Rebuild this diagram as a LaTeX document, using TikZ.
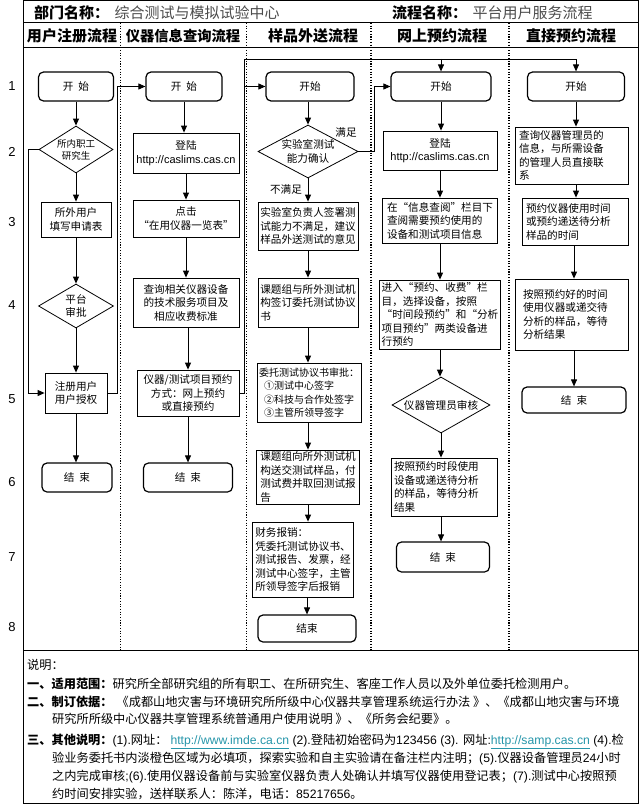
\documentclass[tikz,border=0pt]{standalone}
\usepackage{fontspec}
\setmainfont{Noto Sans CJK SC}
\newfontfamily\lat{Liberation Sans}
\usetikzlibrary{arrows.meta,shapes.geometric}
\definecolor{linkc}{RGB}{38,150,170}
\newcommand{\bxf}{\fontsize{10.6}{13.5}\selectfont}
\newcommand{\smf}{\fontsize{9.5}{12}\selectfont}
\newcommand{\hdf}{\fontsize{15}{18}\selectfont}
\newcommand{\ntf}{\fontsize{12.2}{14}\selectfont}
\newcommand{\lnk}[1]{{\color{linkc}\lat\underline{#1}}}
\begin{document}
\begin{tikzpicture}[x=1pt,y=-1pt,
  bx/.style={draw, line width=0.8pt, inner xsep=2pt, inner ysep=1pt, font=\bxf, align=center},
  lb/.style={bx, align=left},
  term/.style={draw, line width=1.2pt, rounded corners=5pt, font=\bxf, align=center},
  dia/.style={diamond, draw, line width=0.8pt, inner sep=0pt},
  lbl/.style={font=\bxf, align=center, inner sep=0pt},
  arr/.style={-{Triangle[length=7pt,width=6pt]}, line width=0.9pt},
  ln/.style={line width=0.9pt},
  sep/.style={line width=1.1pt, dash pattern=on 1.1pt off 1.6pt},
  num/.style={font=\lat\fontsize{13}{13}\selectfont, inner sep=0pt},
  hd/.style={font=\hdf\bfseries, inner sep=0pt},
  nt/.style={font=\ntf, anchor=base west, inner sep=0pt},
]
\useasboundingbox (0,0) rectangle (640,805);
\fill[white] (0,0) rectangle (640,805);
% frame
\draw[line width=1pt] (23,0.5) rectangle (638,803);
\draw[line width=1pt] (23,23) -- (638,23);
\draw[line width=1pt] (23,48) -- (638,48);
\draw[line width=1pt] (23,650) -- (638,650);
\foreach \x in {120.5,246.5,371,509} \draw[sep] (\x,23) -- (\x,650);

% header
\node[anchor=base west, font=\hdf\bfseries, inner sep=0pt] (dept) at (34,18.5) {部门名称：};
\node[anchor=base west, font=\hdf, text=black!70, inner sep=0pt, xshift=5pt] (deptn) at (dept.base east) {综合测试与模拟试验中心};
\node[anchor=base west, font=\hdf\bfseries, inner sep=0pt] (flow) at (392,18.5) {流程名称：};
\node[anchor=base west, font=\hdf, text=black!70, inner sep=0pt, xshift=5pt] (flown) at (flow.base east) {平台用户服务流程};
\node[hd] (c1) at (72,36) {用户注册流程};
\node[hd, font=\fontsize{14.3}{16}\selectfont\bfseries] (c2) at (183,36) {仪器信息查询流程};
\node[hd] (c3) at (313,36) {样品外送流程};
\node[hd] (c4) at (442,36) {网上预约流程};
\node[hd] (c5) at (571,36) {直接预约流程};

% row numbers
\node[num] (n1) at (12,86) {1};
\node[num] (n2) at (12,152) {2};
\node[num] (n3) at (12,222) {3};
\node[num] (n4) at (12,305) {4};
\node[num] (n5) at (12,399) {5};
\node[num] (n6) at (12,482) {6};
\node[num] (n7) at (12,557) {7};
\node[num] (n8) at (12,627) {8};

% column 1
\node[term, minimum width=75pt, minimum height=29pt] (s1) at (76,86.5) {开\hspace{5pt}始};
\node[dia, minimum width=74pt, minimum height=47pt] (d1) at (76,149.5) {};
\node[lbl, font=\smf] (d1t) at (d1) {所内职工\\研究生};
\node[bx, minimum width=70pt, minimum height=35pt] (r1a) at (76,219.5) {所外用户\\填写申请表};
\node[dia, minimum width=75pt, minimum height=44pt] (d2) at (76,306) {};
\node[lbl] (d2t) at (d2) {平台\\审批};
\node[bx, minimum width=62pt, minimum height=40pt] (r1b) at (76,393) {注册用户\\用户授权};
\node[term, minimum width=70pt, minimum height=29pt] (e1) at (77,477.5) {结\hspace{5pt}束};

\draw[arr] (s1.south) -- (s1.south |- d1.north);
\draw[arr] (d1.south) -- (d1.south |- r1a.north);
\draw[arr] (r1a.south) -- (r1a.south |- d2.north);
\draw[arr] (d2.south) -- (d2.south |- r1b.north);
\draw[arr] (r1b.south) -- (r1b.south |- e1.north);
\draw[arr] (d1.west) -- ++(-10,0) |- (r1b.west);

% column 2
\node[term, minimum width=76pt, minimum height=29pt] (s2) at (184,86.5) {开\hspace{5pt}始};
\node[bx, minimum width=106pt, minimum height=40pt] (r2a) at (186,153) {登陆\\{\lat\fontsize{11}{13.5}\selectfont http://caslims.cas.cn}};
\node[bx, minimum width=106pt, minimum height=37pt] (r2b) at (186,218.5) {点击\\“在用仪器一览表”};
\node[bx, minimum width=106pt, minimum height=49pt] (r2c) at (186,302.5) {查询相关仪器设备\\的技术服务项目及\\相应收费标准};
\node[bx, minimum width=102pt, minimum height=46pt] (r2d) at (188,393) {仪器/测试项目预约\\方式：网上预约\\或直接预约};
\node[term, minimum width=89pt, minimum height=29pt] (e2) at (188,477.5) {结\hspace{5pt}束};

\draw[arr] (s2.south) -- (s2.south |- r2a.north);
\draw[arr] (r2a.south) -- (r2a.south |- r2b.north);
\draw[arr] (r2b.south) -- (r2b.south |- r2c.north);
\draw[arr] (r2c.south -| r2d.north) -- (r2d.north);
\draw[arr] (r2d.south) -- (r2d.south |- e2.north);

% links between columns
\coordinate (ja) at (117.5,393);
\draw[arr] (r1b.east) -- (ja) |- (s2.west);
\coordinate (jb) at (244,59);
\draw[ln] (r2d.east) -| (jb);

% column 3
\node[term, minimum width=88pt, minimum height=29pt] (s3) at (310,86.5) {开始};
\node[dia, minimum width=100pt, minimum height=53pt] (d3) at (308,151.5) {};
\node[lbl] (d3t) at (d3) {实验室测试\\能力确认};
\node[lb, minimum width=100pt, minimum height=48pt] (r3a) at (308,226) {实验室负责人签署测\\试能力不满足，建议\\样品外送测试的意见};
\node[lb, minimum width=100pt, minimum height=49pt] (r3b) at (308,302.5) {课题组与所外测试机\\构签订委托测试协议\\书};
\node[lb, font=\fontsize{10}{13.5}\selectfont, minimum width=104pt, minimum height=59pt] (r3c) at (309,392.5) {委托测试协议书审批：\\\hspace{5pt}①测试中心签字\\\hspace{5pt}②科技与合作处签字\\\hspace{5pt}③主管所领导签字};
\node[lb, minimum width=103pt, minimum height=54pt, inner ysep=0pt] (r3d) at (308,477) {课题组向所外测试机\\构送交测试样品，付\\测试费并取回测试报\\告};
\node[lb, minimum width=101pt, minimum height=75pt] (r3e) at (303,559.5) {财务报销：\\凭委托测试协议书、\\测试报告、发票，经\\测试中心签字，主管\\所领导签字后报销};
\node[term, minimum width=98pt, minimum height=27pt] (e3) at (307,628.5) {结束};

\draw[arr] (s3.south -| d3.north) -- (d3.north);
\draw[arr] (d3.south) -- (d3.south |- r3a.north);
\draw[arr] (r3a.south) -- (r3a.south |- r3b.north);
\draw[arr] (r3b.south) -- (r3b.south |- r3c.north);
\draw[arr] (r3c.south -| r3d.north) -- (r3d.north);
\draw[arr] (r3d.south) -- (r3d.south |- r3e.north);
\draw[arr] (r3e.south -| e3.north) -- (e3.north);
\draw[arr] (jb |- s3.west) -- (s3.west);
\node[lbl] (ok) at (346,132) {满足};
\node[lbl] (nok) at (286,189) {不满足};

% column 4
\node[term, minimum width=100pt, minimum height=29pt] (s4) at (441,86.5) {开始};
\node[bx, minimum width=114pt, minimum height=39pt] (r4a) at (440,150.5) {登陆\\{\lat\fontsize{11}{13.5}\selectfont http://caslims.cas.cn}};
\node[lb, minimum width=115pt, minimum height=45pt] (r4b) at (440,220.5) {在“信息查阅”栏目下\\查阅需要预约使用的\\设备和测试项目信息};
\node[lb, minimum width=114pt, minimum height=69pt] (r4c) at (440,314.5) {进入“预约、收费”栏\\目，选择设备，按照\\“时间段预约”和“分析\\项目预约”两类设备进\\行预约};
\node[dia, minimum width=98pt, minimum height=56pt] (d4) at (441,405) {};
\node[lbl] (d4t) at (d4) {仪器管理员审核};
\node[lb, text width=100pt, inner xsep=3pt, minimum height=58pt] (r4d) at (444,487) {按照预约时段使用\\设备或递送待分析\\的样品，等待分析\\结果};
\node[term, minimum width=93pt, minimum height=30pt] (e4) at (443,557) {结\hspace{5pt}束};

\draw[arr] (s4.south) -- (s4.south |- r4a.north);
\draw[arr] (r4a.south) -- (r4a.south |- r4b.north);
\draw[arr] (r4b.south) -- (r4b.south |- r4c.north);
\draw[arr] (r4c.south) -- (r4c.south |- d4.north);
\draw[arr] (d4.south) -- (d4.south |- r4d.north);
\draw[arr] (d4.south |- r4d.south) -- (d4.south |- e4.north);
\draw[arr] (d3.east) -- ++(16,0) |- (s4.west);

% column 5
\node[term, minimum width=97pt, minimum height=29pt] (s5) at (576,86.5) {开始};
\node[lb, text width=105pt, inner xsep=4pt, minimum height=57pt] (r5a) at (571.5,155.5) {查询仪器管理员的\\信息，与所需设备\\的管理人员直接联\\系};
\node[lb, text width=98pt, inner xsep=4pt, minimum height=47pt] (r5b) at (575,221.5) {预约仪器使用时间\\或预约递送待分析\\样品的时间};
\node[lb, text width=97pt, inner xsep=8pt, minimum height=71pt] (r5c) at (571.5,314.5) {按照预约好的时间\\使用仪器或递交待\\分析的样品，等待\\分析结果};
\node[term, minimum width=104pt, minimum height=26pt] (e5) at (574,400) {结\hspace{5pt}束};

\draw[arr] (s5.south) -- (s5.south |- r5a.north);
\draw[arr] (s5.south |- r5a.south) -- (s5.south |- r5b.north);
\draw[arr] (e5.north |- r5b.south) -- (e5.north |- r5c.north);
\draw[arr] (e5.north |- r5c.south) -- (e5.north);

% top distribution line
\draw[arr] (jb) -| (s5.north);
\draw[arr] (s4.north |- jb) -- (s4.north);

% notes
\node[nt] (ntt) at (27,669) {说明：};
\node[nt] (nt1) at (27,688) {\textbf{一、适用范围：}研究所全部研究组的所有职工、在所研究生、客座工作人员以及外单位委托检测用户。};
\node[nt] (nt2) at (27,706) {\textbf{二、制订依据：}\hspace{4pt}《成都山地灾害与环境研究所所级中心仪器共享管理系统运行办法\ 》、《成都山地灾害与环境};
\node[nt] (nt3) at (52,723) {研究所所级中心仪器共享管理系统普通用户使用说明\ 》、《所务会纪要》。};
\node[nt] (nt4) at (27,744) {\textbf{三、其他说明：}{\lat (1).}网址：\hspace{3pt}\lnk{http://www.imde.ca.cn}{\lat\ (2).}登陆初始密码为{\lat 123456 (3). }网址{\lat :}\lnk{http://samp.cas.cn}{\lat\ (4).}检};
\node[nt] (nt5) at (52,762) {验业务委托书内淡橙色区域为必填项，探索实验和自主实验请在备注栏内注明；{\lat (5).}仪器设备管理员{\lat 24}小时};
\node[nt] (nt6) at (52,780) {之内完成审核{\lat ;(6).}使用仪器设备前与实验室仪器负责人处确认并填写仪器使用登记表；{\lat (7).}测试中心按照预};
\node[nt] (nt7) at (52,798) {约时间安排实验，送样联系人：陈洋，电话：{\lat 85217656}。};
\end{tikzpicture}
\end{document}
